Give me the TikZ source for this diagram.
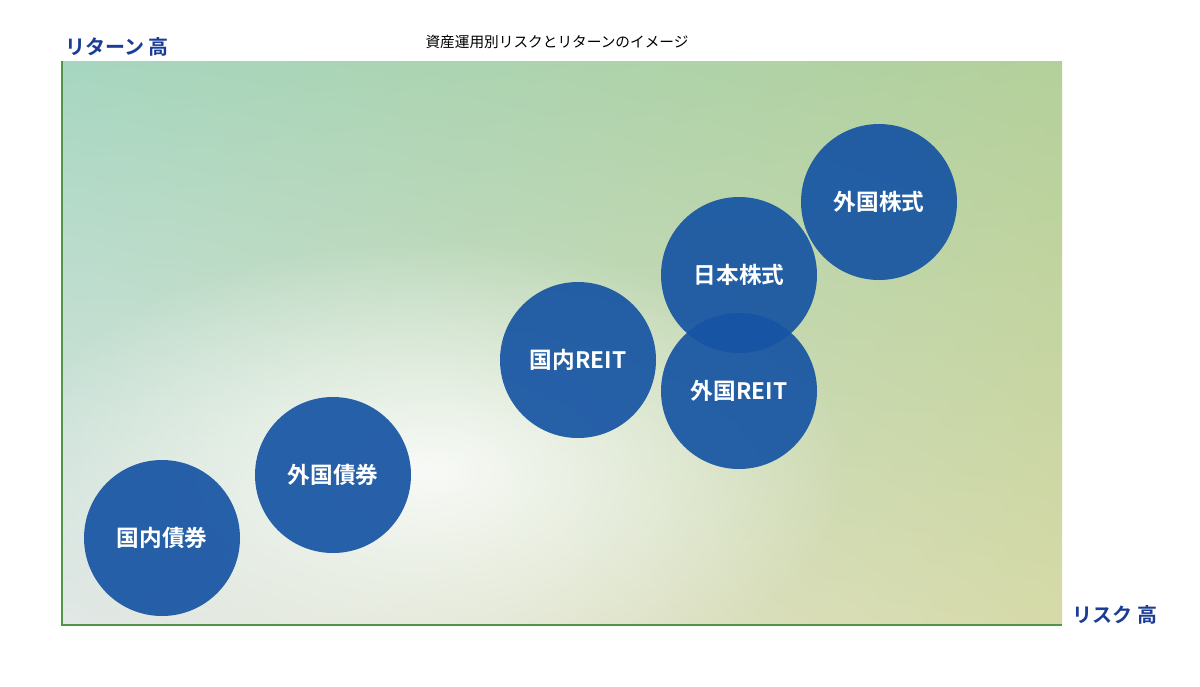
\documentclass[tikz,border=0pt]{standalone}
\usepackage{fontspec}
\newfontfamily\jp{Noto Sans CJK JP}
\newfontfamily\jpb{Noto Sans CJK JP Bold}
\usetikzlibrary{fadings,shadings}
\tikzfading[name=myfade,inner color=transparent!0,outer color=transparent!100]
\definecolor{ball}{RGB}{22,84,163}
\definecolor{axis}{RGB}{80,150,70}
\definecolor{lab}{RGB}{26,60,150}
\definecolor{cul}{RGB}{166,214,192}
\definecolor{cur}{RGB}{180,208,154}
\definecolor{cll}{RGB}{226,232,230}
\definecolor{clr}{RGB}{214,218,168}
\tikzset{asset/.style={circle,minimum size={156*0.75pt},inner sep=0pt,fill=ball,fill opacity=0.92,text opacity=1,text=white,font=\jpb\fontsize{17}{20}\selectfont},
axlab/.style={text=lab,font=\jpb\fontsize{15}{18}\selectfont}}
\begin{document}
\begin{tikzpicture}[x=0.75pt,y=-0.75pt]
\useasboundingbox[fill=white] (0,0) rectangle (1200,686);
\shade[upper left=cul,upper right=cur,lower left=cll,lower right=clr] (62,61) rectangle (1062,625);
\begin{scope}
\clip (62,61) rectangle (1062,625);
\fill[white,path fading=myfade,opacity=0.85] (430,470) ellipse [x radius=420,y radius=230];
\end{scope}
\draw[axis,line width=2.2pt] (62,61) -- (62,625) -- (1062,625);
\node[font=\jp\fontsize{11}{13}\selectfont] (title) at (557,42) {資産運用別リスクとリターンのイメージ};
\node[axlab] (ylab) at (117,47) {リターン 高};
\node[axlab] (xlab) at (1115,615) {リスク 高};
\node[asset] (a1) at (162,538) {国内債券};
\node[asset] (a2) at (333,475) {外国債券};
\node[asset] (a3) at (578,360) {国内REIT};
\node[asset] (a4) at (739,275) {日本株式};
\node[asset] (a5) at (739,391) {外国REIT};
\node[asset] (a6) at (879,202) {外国株式};
\end{tikzpicture}
\end{document}
